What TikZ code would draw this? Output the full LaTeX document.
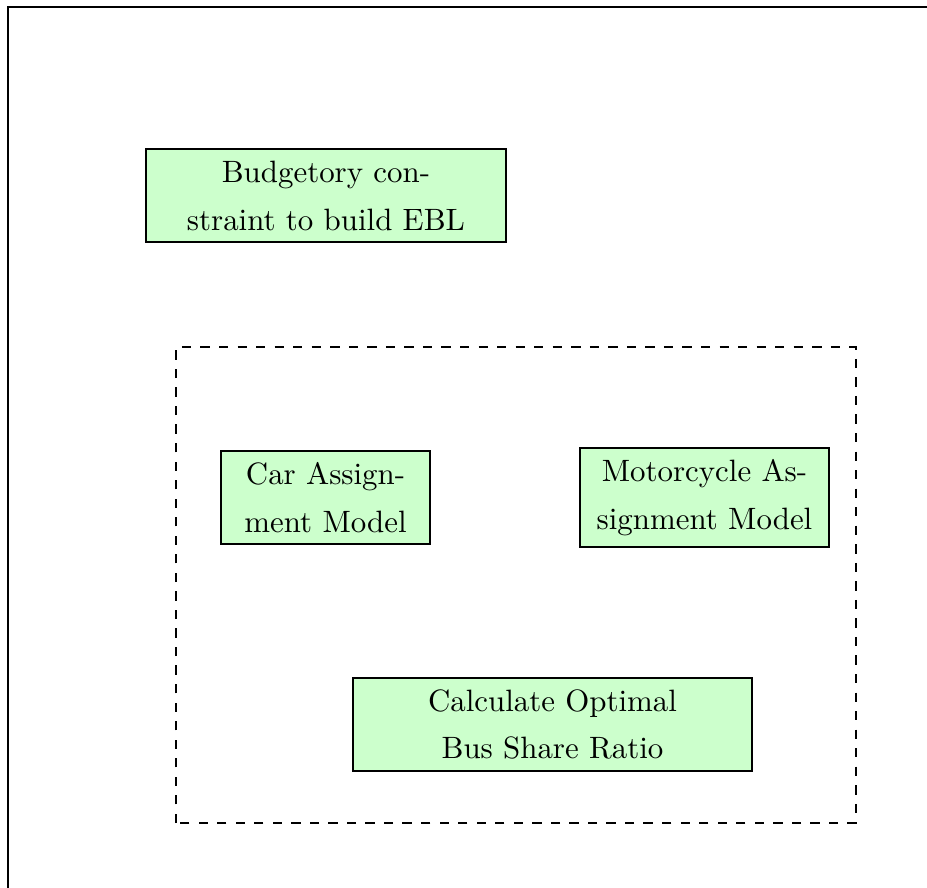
\documentclass[tikz,border=0pt]{standalone}
\usepackage{tikz}

\begin{document}
\begin{tikzpicture}[
    block/.style={draw, fill=green!20, align=center, inner sep=0pt,
                  minimum height=1.058cm,
                  font=\fontsize{10}{15.5}\selectfont}]
\useasboundingbox (0,0) rectangle (10.545,10.101);
\coordinate (fb) at (0.091,0);
\coordinate (fc) at (0.091,10.02);
\coordinate (fr) at (10.545,10.02);
\draw (fb) -- (fc) -- (fr);
\node[block, minimum width=4.095cm] (budget) at (3.708,7.877) {Budgetory con-\\straint to build EBL};
\node[block, minimum width=2.377cm] (car) at (3.703,4.442) {Car Assign-\\ment Model};
\node[block, minimum width=2.832cm, minimum height=1.126cm] (moto) at (8.014,4.442) {Motorcycle As-\\signment Model};
\node[block, minimum width=4.539cm] (calc) at (6.285,1.860) {Calculate Optimal\\Bus Share Ratio};
\draw[semithick, dashed] (2.002,0.739) rectangle (9.737,6.154);
\end{tikzpicture}
\end{document}
